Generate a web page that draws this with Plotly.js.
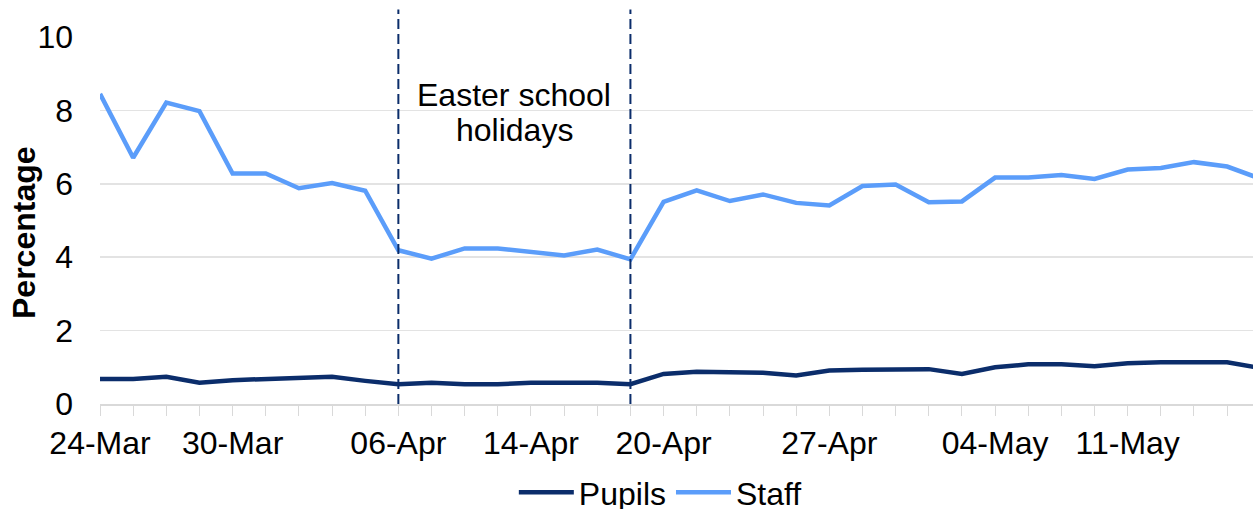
<!DOCTYPE html>
<html>
<head>
<meta charset="utf-8">
<script src="https://cdn.plot.ly/plotly-3.0.1.min.js"></script>
<style>html,body{margin:0;padding:0;background:#fff;}#chart{width:1253px;height:509px;}</style>
</head>
<body>
<div id="chart"></div>
<script>
const dates = ["24-Mar","25-Mar","26-Mar","27-Mar","30-Mar","31-Mar","01-Apr","02-Apr","03-Apr",
  "06-Apr","07-Apr","08-Apr","09-Apr","14-Apr","15-Apr","16-Apr","17-Apr",
  "20-Apr","21-Apr","22-Apr","23-Apr","24-Apr","27-Apr","28-Apr","29-Apr","30-Apr","01-May",
  "04-May","05-May","06-May","07-May","11-May","12-May","13-May","14-May","15-May"];
const tickLabels = ["24-Mar","30-Mar","06-Apr","14-Apr","20-Apr","27-Apr","04-May","11-May"];
const pupils = [0.68,0.68,0.74,0.58,0.65,0.68,0.68,0.74,0.63,0.54,0.58,0.54,0.54,0.58,0.58,0.58,0.54,
  0.82,0.88,0.88,0.85,0.78,0.91,0.93,0.95,0.95,0.82,1.00,1.08,1.08,1.03,1.11,1.14,1.14,1.14,0.98];
const staff = [8.45,6.71,8.21,7.98,6.28,6.28,5.88,6.02,5.81,4.19,3.96,4.24,4.24,4.15,4.05,4.21,3.94,
  5.51,5.82,5.53,5.71,5.48,5.41,5.94,5.98,5.50,5.52,6.17,6.17,6.24,6.13,6.39,6.43,6.59,6.47,6.14];
const holidayStart = "06-Apr";
const holidayEnd = "17-Apr";
const holidayLabelLines = ["Easter school", "holidays"];

const FONT = "Liberation Sans, Arial, sans-serif";
const FS = 32;
const i0 = dates.indexOf(holidayStart), i1 = dates.indexOf(holidayEnd);

const traces = [
  {x: dates, y: pupils, name: "Pupils", type: "scatter", mode: "lines",
   line: {color: "#0B2D6B", width: 4.5}},
  {x: dates, y: staff, name: "Staff", type: "scatter", mode: "lines",
   line: {color: "#5B9DFA", width: 4.5}}
];

const annotations = holidayLabelLines.map((t, k) => ({
  text: t, xref: "x", yref: "y", x: (i0 + i1) / 2, y: 7.95,
  yshift: (k === 0 ? 17.5 : -17.5),
  xanchor: "center", yanchor: "middle", showarrow: false,
  font: {family: FONT, size: FS, color: "#000"}
}));
annotations.push({text: "<b>Percentage</b>", xref: "paper", yref: "y", x: 0, y: 4.66, xshift: -76,
  xanchor: "center", yanchor: "middle", textangle: -90, showarrow: false,
  font: {family: FONT, size: FS, color: "#000"}});

const layout = {
  width: 1253, height: 509,
  margin: {l: 100, r: 0, t: 37, b: 105},
  paper_bgcolor: "#fff", plot_bgcolor: "#fff",
  font: {family: FONT, size: FS, color: "#000"},
  showlegend: true,
  legend: {orientation: "h", xref: "container", yref: "container", x: 0.527, xanchor: "center",
           y: 0.0864, yanchor: "top", bgcolor: "rgba(0,0,0,0)",
           font: {family: FONT, size: FS, color: "#000"}, itemwidth: 55, tracegroupgap: 0},
  xaxis: {type: "category", range: [0, 34.78], tickvals: dates, automargin: false,
          ticktext: dates.map(d => tickLabels.includes(d) ? d : ""),
          ticks: "outside", ticklen: 10, tickcolor: "#d9d9d9", tickwidth: 1,
          showline: true, linecolor: "#d9d9d9", linewidth: 1.5, showgrid: false,
          zeroline: false, tickangle: 0, ticklabelstandoff: 0,
          tickfont: {family: FONT, size: FS, color: "#000"}},
  yaxis: {range: [0, 10], tickvals: [0,2,4,6,8,10], showgrid: true, gridcolor: "#e3e3e3",
          gridwidth: 1.5, zeroline: false, showline: false, ticks: "", ticklabelstandoff: 26,
          automargin: false, tickfont: {family: FONT, size: FS, color: "#000"}},
  shapes: [i0, i1].map(i => ({type: "line", xref: "x", yref: "paper", x0: i, x1: i,
          y0: 0, y1: 1.075, layer: "above",
          line: {color: "#0B2D6B", width: 2, dash: "10px,5px"}})),
  annotations: annotations
};
Plotly.newPlot("chart", traces, layout, {displayModeBar: false, staticPlot: true});
</script>
</body>
</html>
